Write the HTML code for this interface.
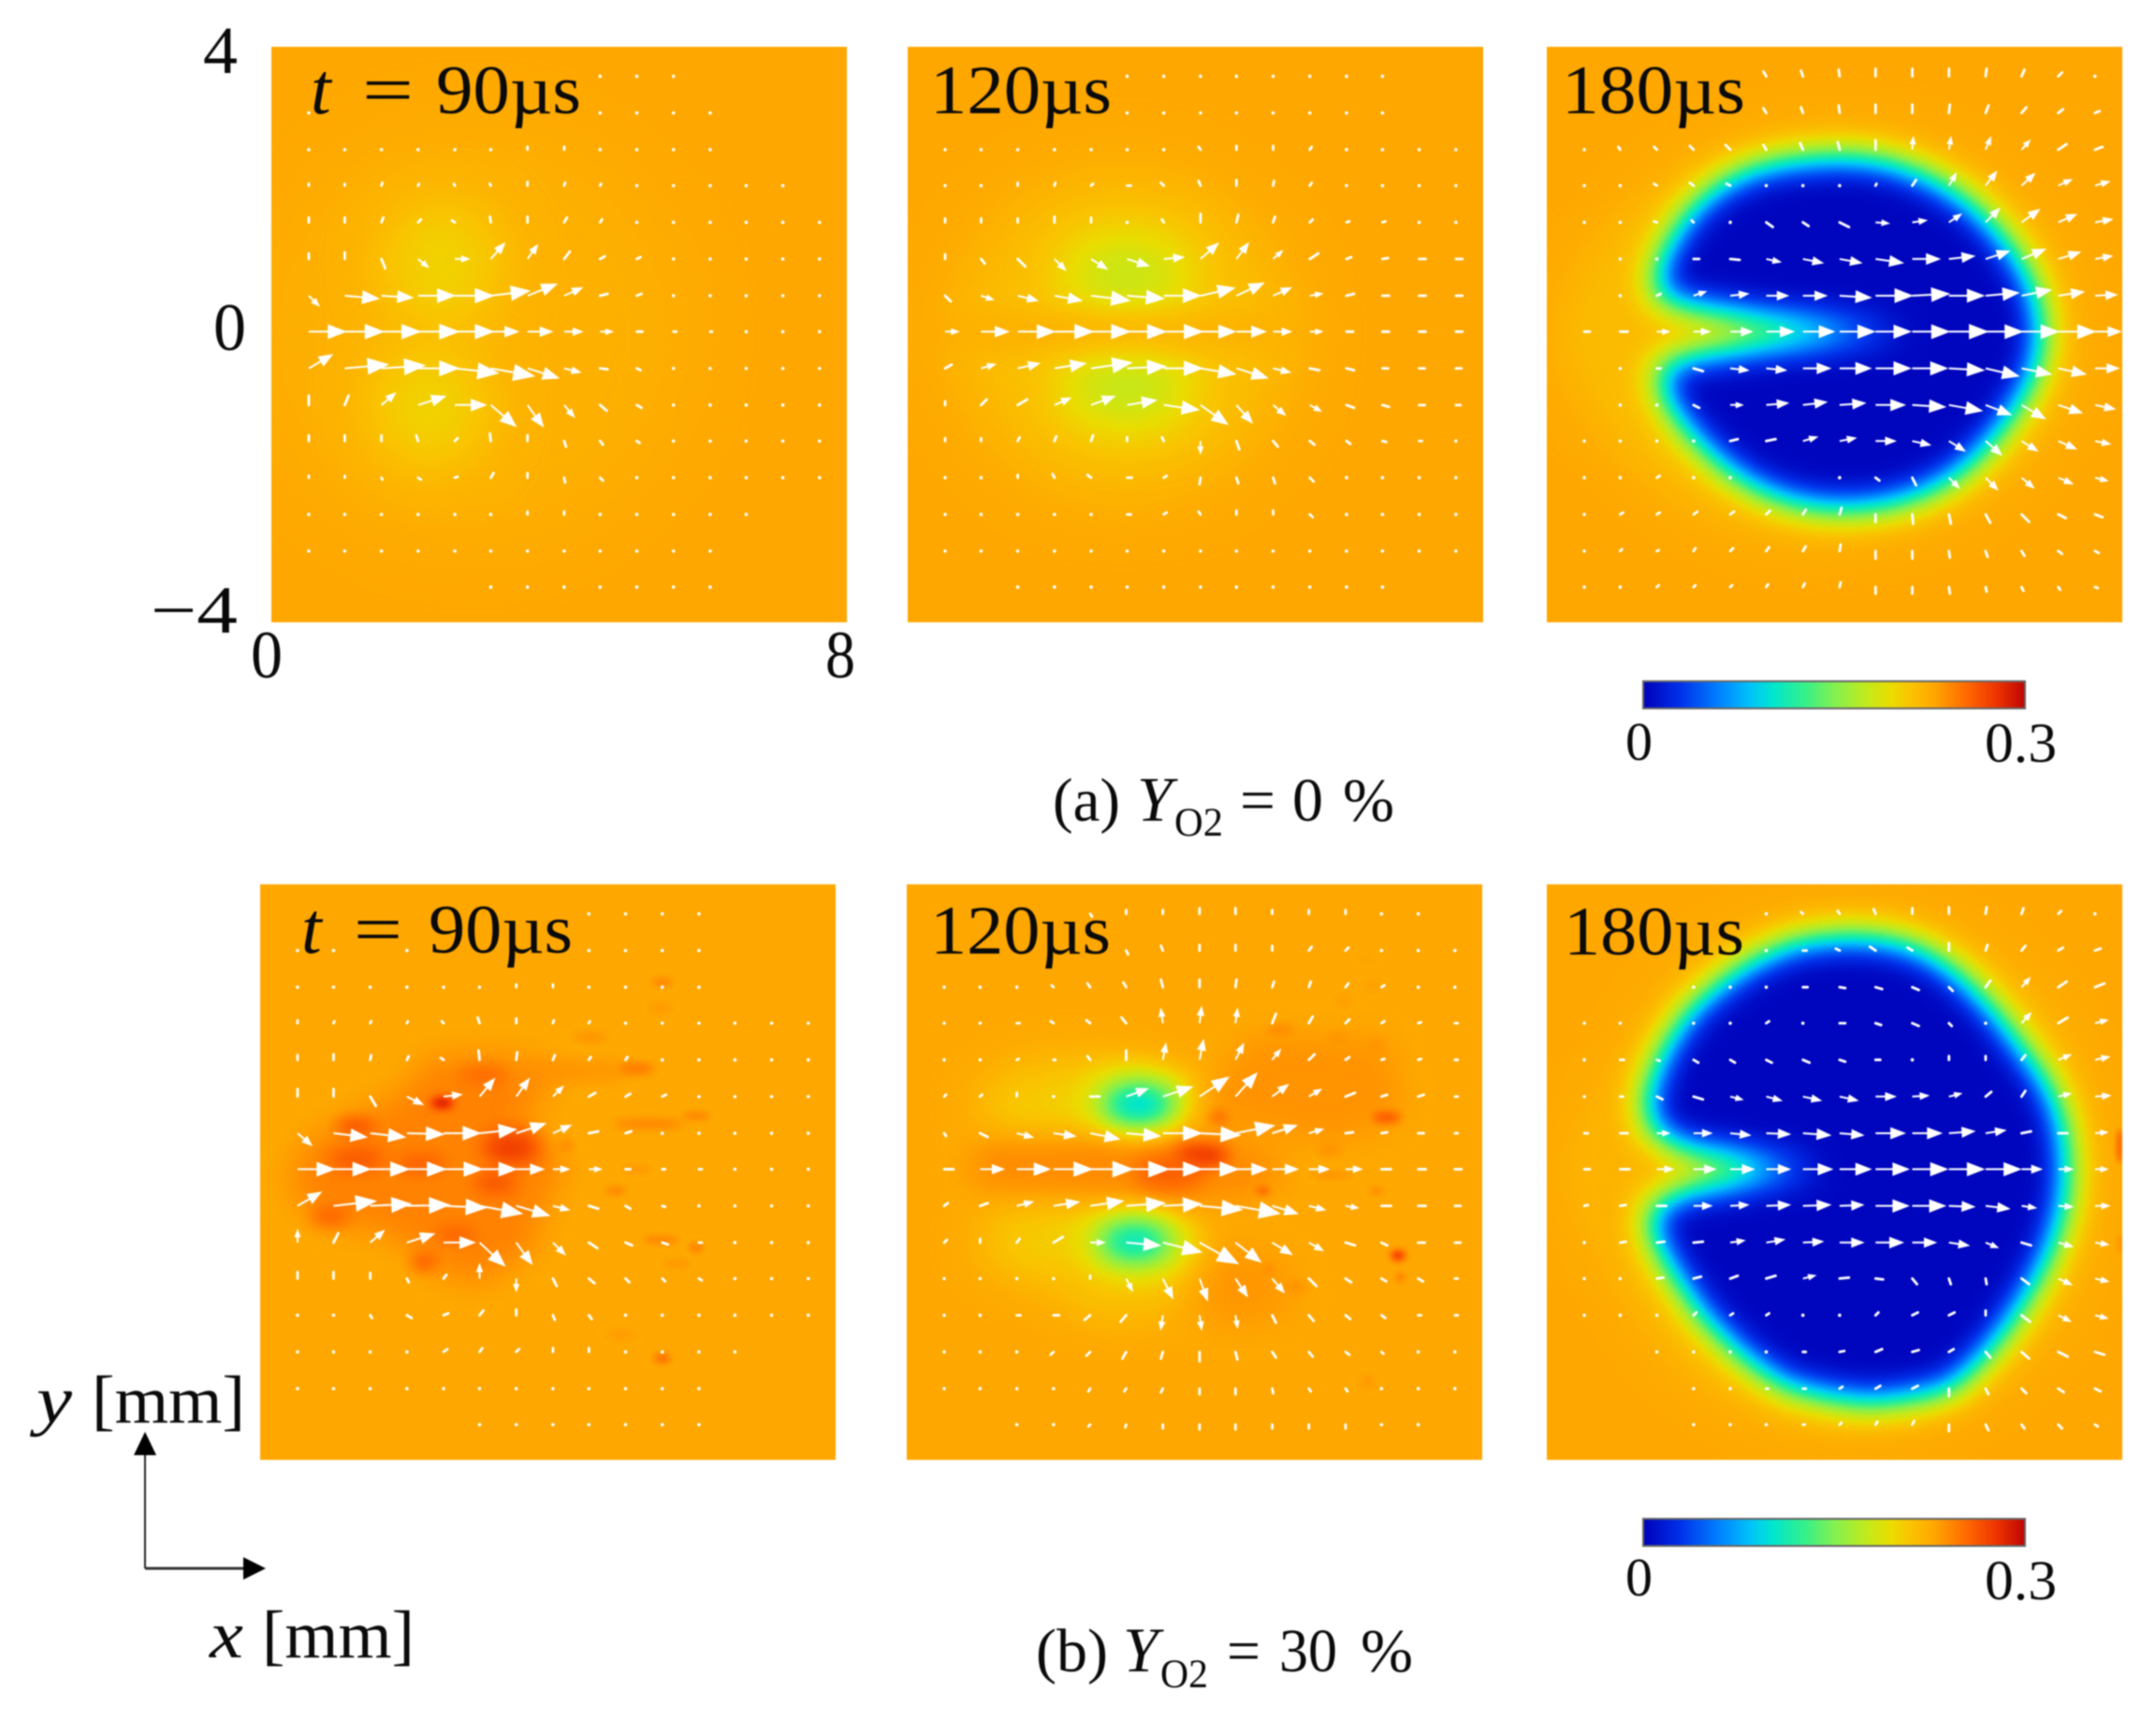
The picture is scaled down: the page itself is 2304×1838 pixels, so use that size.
<!DOCTYPE html>
<html lang="en">
<head>
<meta charset="utf-8">
<title>Oxygen mass fraction fields with velocity vectors</title>
<style>
html,body{margin:0;padding:0;background:#fff;width:2304px;height:1838px;overflow:hidden}
#figure{display:block;width:2304px;height:1838px;filter:blur(.7px)}
text{font-family:"Liberation Serif","DejaVu Serif",serif;fill:#0a0a0a}
.it{font-style:italic}
</style>
</head>
<body>
<svg id="figure" width="2304" height="1838" viewBox="0 0 2304 1838">
<defs id="defs"><linearGradient id="barGrad" x1="0" x2="1" y1="0" y2="0"></linearGradient></defs>
<rect x="0" y="0" width="2304" height="1838" fill="#fff"/>
<g id="panels"></g>

<g>
<text x="217" y="78" font-size="72" textLength="37" lengthAdjust="spacingAndGlyphs">4</text>
<text x="228" y="374" font-size="72" textLength="35" lengthAdjust="spacingAndGlyphs">0</text>
<text x="161" y="676" font-size="72" textLength="93" lengthAdjust="spacingAndGlyphs">−4</text>
</g>
<g>
<text x="268" y="724" font-size="72" textLength="34" lengthAdjust="spacingAndGlyphs">0</text>
<text x="882" y="724" font-size="72" textLength="32" lengthAdjust="spacingAndGlyphs">8</text>
</g>

<g>
<text class="it" x="332" y="121" font-size="78">t</text>
<text x="387" y="121" font-size="74" textLength="55" lengthAdjust="spacingAndGlyphs">=</text>
<text x="466" y="121" font-size="74" textLength="155" lengthAdjust="spacingAndGlyphs">90µs</text>
<text x="994" y="121" font-size="74" textLength="194" lengthAdjust="spacingAndGlyphs">120µs</text>
<text x="1669" y="121" font-size="74" textLength="196" lengthAdjust="spacingAndGlyphs">180µs</text>
<text class="it" x="322" y="1018" font-size="78">t</text>
<text x="378" y="1018" font-size="74" textLength="52" lengthAdjust="spacingAndGlyphs">=</text>
<text x="458" y="1018" font-size="74" textLength="154" lengthAdjust="spacingAndGlyphs">90µs</text>
<text x="994" y="1019" font-size="74" textLength="193" lengthAdjust="spacingAndGlyphs">120µs</text>
<text x="1671" y="1020" font-size="74" textLength="193" lengthAdjust="spacingAndGlyphs">180µs</text>
</g>

<g>
<rect x="1756" y="728" width="408" height="29" fill="url(#barGrad)" stroke="#666" stroke-width="2"/>
<text x="1737" y="812" font-size="58">0</text>
<text x="2121" y="814" font-size="60" textLength="77" lengthAdjust="spacingAndGlyphs">0.3</text>
</g>
<g>
<rect x="1756" y="1623" width="408" height="29" fill="url(#barGrad)" stroke="#666" stroke-width="2"/>
<text x="1737" y="1705" font-size="58">0</text>
<text x="2121" y="1709" font-size="60" textLength="77" lengthAdjust="spacingAndGlyphs">0.3</text>
</g>

<g>
<text x="1125" y="877" font-size="66" textLength="72" lengthAdjust="spacingAndGlyphs">(a)</text>
<text class="it" x="1215" y="877" font-size="68">Y</text>
<text x="1255" y="893" font-size="43" textLength="52" lengthAdjust="spacingAndGlyphs">O2</text>
<text x="1325" y="877" font-size="66" textLength="38" lengthAdjust="spacingAndGlyphs">=</text>
<text x="1381" y="877" font-size="66" textLength="33" lengthAdjust="spacingAndGlyphs">0</text>
<text x="1435" y="877" font-size="66" textLength="55" lengthAdjust="spacingAndGlyphs">%</text>
</g>
<g>
<text x="1107" y="1786" font-size="66" textLength="77" lengthAdjust="spacingAndGlyphs">(b)</text>
<text class="it" x="1200" y="1786" font-size="68">Y</text>
<text x="1240" y="1803" font-size="43" textLength="51" lengthAdjust="spacingAndGlyphs">O2</text>
<text x="1311" y="1786" font-size="66" textLength="36" lengthAdjust="spacingAndGlyphs">=</text>
<text x="1367" y="1786" font-size="66" textLength="62" lengthAdjust="spacingAndGlyphs">30</text>
<text x="1454" y="1786" font-size="66" textLength="56" lengthAdjust="spacingAndGlyphs">%</text>
</g>

<g>
<text class="it" x="39" y="1520" font-size="72" textLength="38" lengthAdjust="spacingAndGlyphs">y</text>
<text x="98" y="1520" font-size="72" textLength="164" lengthAdjust="spacingAndGlyphs">[mm]</text>
<text class="it" x="224" y="1771" font-size="72" textLength="36" lengthAdjust="spacingAndGlyphs">x</text>
<text x="280" y="1771" font-size="72" textLength="163" lengthAdjust="spacingAndGlyphs">[mm]</text>
<line x1="155" y1="1552" x2="155" y2="1676" stroke="#222" stroke-width="2"/>
<polygon points="155,1530 143,1555 167,1555" fill="#000"/>
<line x1="155" y1="1676" x2="262" y2="1676" stroke="#333" stroke-width="3"/>
<polygon points="284,1676 260,1664 260,1688" fill="#000"/>
</g>
</svg>

<script>
const _ = null;

/* Grid of vector origins, in mm */
const gridX = [0.52,1.02,1.53,2.04,2.55,3.05,3.56,4.07,4.57,5.08,5.59,6.1,6.6,7.11,7.62];
const gridY = [3.59,3.08,2.57,2.07,1.56,1.05,0.54,0.04,-0.47,-0.98,-1.48,-1.99,-2.5,-3.01,-3.51];

/* Colour scale: fraction of the 0 to 0.3 range, with R, G, B channels */
const colorFractions = [0,0.1,0.2,0.28,0.34,0.42,0.5,0.58,0.65,0.7,0.76,0.84,0.92,1];
const colorRed   = [0,0,0,0,0,50,130,190,235,250,255,255,240,190];
const colorGreen = [0,50,130,195,230,240,240,235,220,195,168,110,55,5];
const colorBlue  = [185,235,255,250,205,140,80,30,0,0,0,0,0,0];

/* Ambient mass fraction */
const ambientY = 0.228;

/* Field features, mm: centre x, centre y, radius x, radius y, mass fraction, diffusion width */
const fieldA1 = [[2.8,0,3.0,2.9,0.222,0.42],[2.37,0.99,0.85,0.85,0.2,0.38],[2.2,-1.02,0.85,0.85,0.2,0.38]];
const fieldA2 = [[3.0,0,2.4,2.3,0.214,0.42],[3.05,0.84,0.95,0.55,0.174,0.38],[3.05,-0.75,0.95,0.55,0.172,0.38],[2.8,0.04,2.8,0.2,0.226,0.22]];
const fieldA3Halo = [[3.9,0,3.45,2.85,0.213,0.32],[1.1,0.02,0.9,1.0,0.215,0.4]];
const fieldB3Halo = [[4.2,0,3.45,3.6,0.213,0.32],[0.9,0,0.7,1.0,0.22,0.35]];
const fieldB3Spots = [[7.96,0.36,0.04,0.25,0.26,0.04],[7.96,-1.0,0.03,0.15,0.24,0.04]];
const fieldB1 = [
 [2.53,0.96,0.16,0.07,0.3,0.06],[1.33,0.64,0.28,0.09,0.27,0.1],[3.49,0.34,0.4,0.22,0.275,0.14],
 [1.35,0.18,0.4,0.14,0.265,0.13],[3.27,-0.15,0.3,0.14,0.265,0.12],[2.23,0.12,0.35,0.12,0.26,0.12],
 [0.97,-0.62,0.28,0.1,0.265,0.12],[2.72,-0.86,0.28,0.09,0.26,0.1],[2.28,-1.25,0.18,0.1,0.265,0.1],
 [3.1,1.35,0.35,0.1,0.255,0.11],[4.4,1.41,0.8,0.12,0.238,0.12],[5.24,1.44,0.25,0.07,0.25,0.07],
 [4.58,1.87,0.25,0.05,0.24,0.07],[5.57,2.28,0.15,0.04,0.24,0.06],[5.59,2.64,0.15,0.05,0.245,0.05],
 [6.06,0.78,0.2,0.05,0.245,0.05],[5.4,0.67,0.5,0.05,0.248,0.06],[4.25,0.37,0.1,0.06,0.245,0.06],
 [5.24,0.04,0.2,0.04,0.238,0.05],[4.94,-0.26,0.15,0.05,0.245,0.05],[5.57,-0.94,0.25,0.05,0.245,0.05],
 [6.06,-1.05,0.1,0.05,0.25,0.05],[5.8,-1.27,0.2,0.04,0.238,0.05],[5.59,-2.59,0.12,0.06,0.255,0.05],
 [5.02,-2.26,0.2,0.05,0.235,0.07]
];
const fieldB2Under = [
 [2.3,0.95,1.3,0.6,0.205,0.3],[2.3,-0.97,1.3,0.6,0.205,0.3],[4.6,-1.6,0.8,0.5,0.235,0.26],
 [3.0,-1.6,0.9,0.5,0.212,0.26],[3.2,0.95,0.9,0.55,0.19,0.2],[3.2,-0.97,0.9,0.55,0.19,0.2]
];
const fieldB2Over = [
 [3.22,0.94,0.5,0.28,0.085,0.2],[3.17,-0.97,0.5,0.28,0.095,0.2],
 [4.1,0.23,0.38,0.14,0.285,0.12],[3.66,-0.01,0.5,0.22,0.26,0.15],[4.95,-0.26,0.1,0.05,0.26,0.05],
 [4.34,0.76,0.12,0.07,0.26,0.08],[6.67,0.76,0.2,0.06,0.27,0.06],[5.19,1.98,0.2,0.05,0.245,0.06],
 [6.0,1.87,0.15,0.04,0.24,0.06],[6.53,1.76,0.12,0.1,0.236,0.06],[6.07,2.37,0.12,0.04,0.236,0.06],
 [6.4,2.97,0.1,0.04,0.232,0.06],[6.48,2.59,0.1,0.04,0.236,0.06],[6.83,-1.16,0.1,0.07,0.28,0.05],
 [6.86,-1.46,0.06,0.05,0.255,0.05],[5.41,-1.6,0.15,0.08,0.238,0.06],[5.03,-1.35,0.06,0.05,0.245,0.05],
 [6.4,-2.91,0.1,0.06,0.238,0.06],[5.88,0.31,0.15,0.08,0.238,0.07],[6.53,-0.26,0.1,0.04,0.245,0.05],
 [5.9,-0.04,0.3,0.03,0.245,0.05]
];

/* Contours, mm */
const contourA3X = [1.53,1.5,1.67,1.95,2.35,2.86,3.43,4.11,4.68,5.24,5.76,6.21,6.55,6.78,6.89,6.8,6.58,6.21,5.76,5.24,4.68,4.11,3.54,2.98,2.46,2.07,1.76,1.59,1.53,1.95,2.98,4.3,5.0,4.3,2.98,2.01];
const contourA3Y = [0.51,0.77,1.22,1.66,2.04,2.3,2.42,2.47,2.41,2.22,1.92,1.51,1.07,0.62,0.04,-0.5,-0.95,-1.47,-1.92,-2.22,-2.38,-2.43,-2.37,-2.18,-1.85,-1.47,-1.1,-0.73,-0.46,-0.31,-0.15,-0.01,0.03,0.09,0.22,0.38];
const contourB3X = [1.43,1.38,1.6,1.95,2.42,2.92,3.47,4.02,4.51,5.06,5.5,5.89,6.28,6.61,6.94,7.16,7.24,7.18,6.99,6.72,6.33,5.94,5.61,5.06,4.51,3.96,3.3,2.7,2.15,1.75,1.5,1.42,1.43,1.92,3.14,3.8,3.14,1.92];
const contourB3Y = [0.59,1.04,1.64,2.2,2.62,2.96,3.19,3.26,3.26,3.15,2.92,2.59,2.17,1.72,1.27,0.74,0.06,-0.54,-1.14,-1.67,-2.27,-2.72,-3.02,-3.14,-3.21,-3.14,-2.98,-2.55,-2.0,-1.4,-0.95,-0.61,-0.5,-0.26,-0.03,0.04,0.11,0.32];
const contourB1X = [0.42,0.75,1.19,1.96,2.34,3.27,4.31,3.6,4.03,4.25,3.93,3.82,3.05,2.34,1.9,0.86,0.48];
const contourB1Y = [0.04,0.48,0.72,1.08,1.57,1.63,1.41,0.86,0.37,0.04,-0.45,-1.05,-1.55,-1.33,-0.89,-0.67,-0.34];
const contourB2X = [0.98,3.93,4.81,5.36,4.81,3.71,0.98,0.87];
const contourB2Y = [0.42,0.59,0.37,0.04,-0.34,-0.45,-0.23,0.1];
const contourB2FanX = [3.95,4.8,6.7,6.9,5.9];
const contourB2FanY = [0.7,1.9,1.85,0.75,0.38];

/* Velocity vectors. Each row is one gridY value, each column one gridX value. */
const uA1 = [
[_,_,_,_,_,_,_,_,0,0,0,_,_,_,_],
[0,_,_,_,_,_,_,_,0,0,0,0,_,_,_],
[0,0,0,0,0,0,0,0,0,0,0,0,_,_,_],
[0,0,1,1,-1,-1,0,1,1,0,0,0,0,0,_],
[0,0,2,3,-3,-1,0,3,2,0,0,0,0,0,0],
[0,0,4,10,14,14,10,6,5,4,0,0,0,0,0],
[10,35,32,38,40,40,30,18,8,5,0,0,0,0,0],
[38,40,40,42,40,28,25,18,12,6,3,2,0,0,0],
[24,45,45,42,45,45,32,16,8,4,0,0,0,0,0],
[0,4,14,28,32,26,16,10,7,5,0,0,0,0,0],
[0,0,0,-2,3,-1,0,2,3,3,0,0,0,0,0],
[0,0,1,3,3,3,0,1,3,0,0,0,0,0,0],
[0,0,0,0,0,0,0,0,0,0,0,0,0,_,_],
[0,0,0,0,0,0,0,0,0,0,0,0,_,_,_],
[_,_,_,_,_,0,0,0,0,0,0,0,_,_,_]];
const vA1 = [
[_,_,_,_,_,_,_,_,0,0,0,_,_,_,_],
[0,_,_,_,_,_,_,_,0,0,0,0,_,_,_],
[0,0,0,0,0,0,3,3,0,0,0,0,_,_,_],
[2,2,3,2,2,2,4,3,2,0,0,0,0,0,_],
[5,5,5,3,2,6,6,5,3,0,0,0,0,0,0],
[6,7,-10,-8,0,16,14,8,3,2,0,0,0,0,0],
[-10,-3,-2,0,0,5,12,8,2,2,0,0,0,0,0],
[0,0,0,0,0,0,0,0,0,0,0,0,0,0,0],
[14,4,3,0,-5,-8,-10,-4,-1,-2,0,0,0,0,0],
[10,10,12,9,0,-22,-22,-12,-6,-3,0,0,0,0,0],
[6,6,6,6,3,8,6,-6,-4,-2,0,0,0,0,0],
[2,2,-2,-2,1,5,5,-5,-3,0,0,0,0,0,0],
[0,0,0,0,0,0,3,3,0,0,0,0,0,_,_],
[0,0,0,0,0,0,0,0,0,0,0,0,_,_,_],
[_,_,_,_,_,0,0,0,0,0,0,0,_,_,_]];

const uA2 = [
[_,_,_,_,_,0,0,0,0,0,0,0,0,_,_],
[_,_,_,_,_,0,0,0,0,0,0,0,0,_,_],
[0,0,0,0,0,0,0,-2,0,0,2,0,0,0,0],
[0,0,0,1,2,4,-3,-2,0,1,2,0,0,0,0],
[0,0,0,0,0,0,-2,0,2,2,3,3,3,0,0],
[0,4,8,11,16,22,20,18,12,9,9,5,6,7,7],
[6,12,20,28,40,38,38,35,28,18,12,8,7,7,7],
[13,28,38,40,40,40,40,36,30,18,12,7,7,7,7],
[7,14,22,32,42,40,40,36,32,17,10,8,6,6,6],
[0,6,10,16,24,30,36,28,16,12,11,8,7,6,5],
[0,0,2,2,2,0,-2,0,3,5,5,4,4,3,0],
[0,0,0,-2,-4,5,3,-1,2,2,4,0,0,0,0],
[0,0,0,0,0,4,3,-2,0,0,3,0,0,0,0],
[0,0,0,0,0,0,0,0,0,0,0,0,0,0,0],
[_,_,0,0,0,0,0,0,0,0,0,0,0,_,_]];
const vA2 = [
[_,_,_,_,_,0,0,0,0,0,0,0,0,_,_],
[_,_,_,_,_,0,0,0,0,0,0,0,0,_,_],
[0,0,0,0,0,0,0,3,4,4,3,0,0,0,0],
[0,0,3,3,2,0,3,5,6,5,3,0,0,0,0],
[4,4,4,6,5,0,3,9,8,6,3,1,1,0,0],
[5,-5,-8,-11,-10,-7,2,16,16,8,6,2,1,0,0],
[-6,-4,-5,-5,-5,-3,0,8,13,8,2,2,0,0,0],
[0,0,0,0,0,0,0,0,0,0,0,0,0,0,0],
[4,4,5,5,6,2,0,-6,-10,-4,-2,-2,0,0,0],
[4,6,6,7,9,5,-5,-20,-18,-10,-6,-3,-2,0,0],
[3,3,4,5,6,4,4,-12,-9,-6,-4,-3,-1,0,0],
[0,0,3,4,3,0,2,-7,-6,-6,-4,0,0,0,0],
[0,0,0,0,0,0,2,3,4,4,-3,0,0,0,0],
[0,0,0,0,0,0,0,0,0,0,0,0,0,0,0],
[_,_,0,0,0,0,0,0,0,0,0,0,0,_,_]];

const uA3 = [
[_,_,_,_,_,-3,-2,-1,0,0,0,1,3,4,0],
[_,_,_,_,_,-3,-2,-1,0,0,1,3,5,5,5],
[0,-2,-3,-4,-5,-3,-3,-2,0,1,2,5,8,9,8],
[0,0,-3,-4,-4,0,0,0,1,4,7,11,13,13,14],
[0,0,-3,-2,0,7,6,10,13,14,12,14,18,18,17],
[_,0,0,6,10,14,20,22,28,28,26,24,24,22,17],
[_,0,4,12,18,22,24,32,38,38,36,34,30,26,22],
[6,8,12,16,22,28,32,36,36,38,40,38,38,38,26],
[_,0,4,10,18,20,28,32,36,36,36,34,30,28,24],
[_,0,0,6,12,22,24,26,30,34,34,26,24,24,20],
[0,0,0,0,8,10,14,16,20,18,16,16,16,18,15],
[0,0,3,0,0,_,_,0,4,4,10,12,12,14,12],
[0,3,3,4,4,4,3,2,0,1,2,5,8,8,8],
[0,2,2,2,3,3,3,1,0,0,1,2,3,4,4],
[0,0,2,2,2,2,2,1,0,0,1,1,2,2,3]];
const vA3 = [
[_,_,_,_,_,5,6,7,8,8,8,8,7,4,0],
[_,_,_,_,_,5,6,8,9,9,9,8,6,4,2],
[0,3,3,4,5,5,7,8,10,12,12,12,9,6,3],
[0,0,2,3,2,0,0,0,2,6,12,14,12,6,4],
[0,0,1,2,0,-5,-4,-5,-1,2,8,14,13,8,3],
[_,0,0,0,-1,-3,-4,-4,-4,0,3,8,10,7,3],
[_,0,2,4,2,0,0,-2,0,2,0,3,6,4,1],
[0,0,0,0,0,0,0,0,0,0,0,0,0,0,0],
[_,0,0,-3,-2,-2,0,0,0,0,-2,-8,-6,-6,0],
[_,0,0,-3,0,2,3,2,0,-2,-6,-10,-14,-8,-4],
[0,0,0,0,2,2,4,3,0,-4,-10,-14,-10,-8,-3],
[0,0,2,0,0,_,_,0,-3,-8,-10,-12,-10,-6,-3],
[0,2,2,3,3,4,5,7,-8,-10,-10,-9,-8,-4,-3],
[0,2,1,3,3,4,5,7,-8,-8,-7,-6,-5,-3,-2],
[0,0,2,2,2,3,4,5,-7,-7,-7,-5,-4,-3,-1]];

const uB1 = [
[_,_,_,_,_,_,_,_,0,0,0,0,_,_,_],
[0,0,_,0,_,_,_,_,0,0,0,0,_,_,_],
[0,0,0,0,0,0,0,0,0,0,0,0,_,_,_],
[0,1,1,1,-2,-2,0,1,1,0,0,0,0,0,0],
[0,0,1,2,-3,-1,1,2,2,2,0,0,0,0,0],
[0,0,6,16,18,15,13,10,7,5,4,0,0,0,0],
[14,34,36,38,38,38,30,18,10,6,0,0,0,0,0],
[38,38,40,40,40,38,28,16,12,5,3,3,0,0,0],
[24,44,42,44,44,44,34,16,10,5,3,0,0,0,0],
[0,5,14,28,32,26,16,12,9,7,6,3,0,0,0],
[0,0,0,2,3,0,0,4,6,4,3,3,0,0,0],
[0,0,2,5,5,4,0,2,3,0,0,0,0,0,0],
[0,0,0,0,4,3,3,0,0,0,0,0,0,_,_],
[0,0,0,0,0,0,0,0,0,0,0,0,_,_,_],
[_,_,_,_,_,0,0,0,0,0,0,0,_,_,_]];
const vB1 = [
[_,_,_,_,_,_,_,_,0,0,0,0,_,_,_],
[0,0,_,0,_,_,_,_,0,0,0,0,_,_,_],
[0,0,0,0,0,0,3,3,0,0,0,0,_,_,_],
[3,2,2,2,2,6,5,3,2,0,0,0,0,0,0],
[5,6,5,4,2,10,8,5,3,3,0,0,0,0,0],
[8,8,-10,-8,2,18,18,10,4,3,2,0,0,0,0],
[-12,-4,-4,-1,0,4,10,8,2,2,0,0,0,0,0],
[0,0,0,0,0,0,0,0,0,0,0,0,0,0,0],
[14,5,2,1,-2,-8,-10,-4,-3,-3,-1,0,0,0,0],
[12,10,12,9,0,-24,-22,-12,-6,-3,-2,0,0,0,0],
[7,7,6,-4,4,14,-12,-8,-5,-4,-3,-2,0,0,0],
[0,0,-3,-3,2,5,6,-5,-4,0,0,0,0,0,0],
[0,0,0,0,3,4,3,4,4,0,0,0,0,_,_],
[0,0,0,0,0,0,0,0,0,0,0,0,_,_,_],
[_,_,_,_,_,0,0,0,0,0,0,0,_,_,_]];

const uB2 = [
[_,_,_,_,2,0,0,0,0,0,0,0,0,0,_],
[_,_,_,_,_,2,-2,0,0,0,3,3,0,0,0],
[0,0,0,-2,-3,-3,-2,0,1,2,2,3,3,0,0],
[0,0,3,-3,-4,-5,-2,2,2,4,4,4,3,3,3],
[0,0,2,2,-3,0,3,4,8,8,6,4,3,3,3],
[2,2,0,0,10,22,30,30,22,16,12,10,6,6,3],
[2,8,16,22,30,35,40,42,40,25,14,8,6,6,3],
[10,24,34,40,44,44,40,40,32,26,20,16,10,8,7],
[4,8,16,26,34,40,40,44,46,26,16,12,10,8,6],
[3,0,3,10,14,35,40,40,26,20,14,10,6,7,6],
[0,0,0,0,0,6,10,8,12,12,8,6,5,5,3],
[0,0,4,6,-6,-6,-2,2,2,4,5,5,4,3,3],
[0,0,0,-3,-4,-4,-2,0,2,4,4,4,2,0,0],
[0,0,0,0,-2,-2,-2,0,0,1,2,2,0,0,0],
[_,_,0,0,-2,-1,0,0,0,0,0,0,0,0,_]];
const vB2 = [
[_,_,_,_,-3,4,4,6,6,4,4,4,0,0,_],
[_,_,_,_,_,-4,5,6,6,5,4,3,0,0,0],
[0,0,0,2,4,5,8,8,8,6,6,4,2,0,0],
[0,0,0,2,3,6,14,16,14,10,7,4,2,1,0],
[0,0,1,0,4,10,16,20,16,10,6,3,1,1,0],
[2,2,4,0,0,8,10,20,24,12,7,4,2,2,0],
[-3,-4,-4,-3,-6,-3,0,-2,8,8,4,1,1,0,0],
[0,0,0,0,0,0,0,0,0,0,0,0,0,0,0],
[3,3,4,4,5,3,2,-4,-8,-8,-4,-2,0,0,0],
[3,4,4,6,0,-3,-10,-22,-20,-12,-8,-3,-3,0,0],
[0,0,0,0,3,-12,-20,-22,-18,-14,-8,-4,-3,-3,0],
[0,0,0,0,-5,-7,-14,-14,-12,-8,-6,-4,-3,0,0],
[0,0,0,-3,-4,-7,-7,-10,-8,-6,-5,-3,-2,0,0],
[0,0,0,0,-3,-3,-4,-6,-6,-5,-3,-3,0,0,0],
[_,_,0,0,-2,-3,-4,-5,-5,-4,-4,-4,0,0,_]];

const uB3 = [
[_,_,_,_,_,0,-2,-2,-2,0,0,1,2,3,0],
[_,_,_,_,_,0,4,-4,-6,-5,0,2,4,5,6],
[_,_,_,0,0,0,5,6,7,7,4,5,8,9,10],
[0,0,_,0,0,3,0,6,6,7,3,0,9,10,12],
[0,4,3,5,5,6,7,6,5,0,0,0,4,12,14],
[0,3,6,10,12,15,18,18,20,16,12,6,4,12,15],
[4,8,12,18,20,24,28,24,30,30,26,20,10,10,12],
[6,10,16,22,24,24,30,32,34,36,36,36,20,14,12],
[4,6,10,18,18,24,28,24,34,34,26,24,14,14,14],
[0,6,8,10,14,18,20,24,28,24,20,12,10,14,13],
[0,0,7,8,8,10,12,10,8,5,2,1,8,13,13],
[0,0,0,3,3,3,0,0,3,6,6,0,9,12,12],
[_,_,0,0,0,0,3,5,7,7,5,5,8,10,10],
[_,_,_,0,0,2,3,3,5,6,0,3,5,6,6],
[_,_,_,0,0,0,2,2,2,2,0,3,3,4,3]];
const vB3 = [
[_,_,_,_,_,0,2,3,5,6,7,7,6,3,0],
[_,_,_,_,_,0,0,2,4,3,8,6,5,3,2],
[_,_,_,0,0,0,0,-1,-2,-3,-4,7,9,6,4],
[0,0,_,0,0,2,0,0,-2,-3,-3,0,10,6,3],
[0,0,-1,-3,-3,-3,-3,-2,0,0,4,4,5,5,3],
[0,0,-3,-3,-3,-4,-4,-4,0,1,3,5,6,3,1],
[0,0,0,0,-2,-1,-2,-2,0,0,2,3,2,0,1],
[0,0,0,0,0,0,0,0,0,0,0,0,0,0,0],
[1,1,0,0,1,1,1,1,0,0,-1,-3,-2,-1,0],
[0,1,1,1,2,3,1,0,0,0,-3,-5,-3,-4,-2],
[0,0,1,2,3,3,3,1,-1,-6,-6,-6,-6,-6,-3],
[0,0,0,3,2,2,0,0,3,3,3,5,-7,-6,-3],
[_,_,0,0,0,0,0,1,3,2,3,-6,-7,-5,-3],
[_,_,_,0,0,0,0,2,3,3,-8,-6,-5,-4,-3],
[_,_,_,0,0,0,0,2,3,4,-7,-6,-4,-4,-2]];

/* Axes */
const svg = document.getElementById('figure');
const NS = svg.namespaceURI;
const defs = document.getElementById('defs');
const panelsRoot = document.getElementById('panels');
const PANEL = 615;
const xDomain = [0, 8];
const yDomain = [4, -4];
const yMax = 0.3;
const pxPerMm = PANEL / (xDomain[1] - xDomain[0]);
const xAxis = (left, mm) => left + (mm - xDomain[0]) * pxPerMm;
const yAxis = (top, mm) => top + (mm - yDomain[0]) / (yDomain[1] - yDomain[0]) * PANEL;
const gray = y => { const g = Math.round(Math.max(0, Math.min(1, y / yMax)) * 255); return 'rgb(' + g + ',' + g + ',' + g + ')'; };

function node(tag, attrs, parent) {
  const el = document.createElementNS(NS, tag);
  for (const k in attrs) el.setAttribute(k, attrs[k]);
  parent.appendChild(el);
  return el;
}

/* Colour scale lookup */
function channel(values, f) {
  for (let i = 1; i < colorFractions.length; i++) {
    if (f <= colorFractions[i]) {
      const a = colorFractions[i - 1], b = colorFractions[i];
      return values[i - 1] + (values[i] - values[i - 1]) * (f - a) / (b - a);
    }
  }
  return values[values.length - 1];
}
const barGrad = document.getElementById('barGrad');
colorFractions.forEach((f, i) => {
  node('stop', { offset: f, 'stop-color': 'rgb(' + colorRed[i] + ',' + colorGreen[i] + ',' + colorBlue[i] + ')' }, barGrad);
});
function tableFor(values) {
  const out = [];
  for (let i = 0; i <= 128; i++) out.push((channel(values, i / 128) / 255).toFixed(4));
  return out.join(' ');
}

const tableR = tableFor(colorRed), tableG = tableFor(colorGreen), tableB = tableFor(colorBlue);

function colormapFilter(id, left, top) {
  const f = node('filter', { id: id, filterUnits: 'userSpaceOnUse', x: left, y: top, width: PANEL, height: PANEL, 'color-interpolation-filters': 'sRGB' }, defs);
  const t = node('feComponentTransfer', {}, f);
  node('feFuncR', { type: 'table', tableValues: tableR }, t);
  node('feFuncG', { type: 'table', tableValues: tableG }, t);
  node('feFuncB', { type: 'table', tableValues: tableB }, t);
}
function blurFilter(panelId, left, top, sigmaMm) {
  const s = Math.round(sigmaMm * pxPerMm);
  const id = panelId + '-blur-' + s;
  if (!document.getElementById(id)) {
    const f = node('filter', { id: id, filterUnits: 'userSpaceOnUse', x: left - 90, y: top - 90, width: PANEL + 180, height: PANEL + 180, 'color-interpolation-filters': 'sRGB' }, defs);
    node('feGaussianBlur', { stdDeviation: s }, f);
  }
  return 'url(#' + id + ')';
}

function drawEllipses(rows, p, group) {
  rows.forEach(r => {
    const el = node('ellipse', { cx: xAxis(p.left, r[0]), cy: yAxis(p.top, r[1]), rx: r[2] * pxPerMm, ry: r[3] * pxPerMm, fill: gray(r[4]), filter: blurFilter(p.id, p.left, p.top, r[5]) }, group);
    
    
  });
}
function drawContour(xs, ys, value, sigma, p, group) {
  const pts = xs.map((x, i) => xAxis(p.left, x).toFixed(1) + ',' + yAxis(p.top, ys[i]).toFixed(1)).join(' ');
  const el = node('polygon', { points: pts, fill: gray(value), filter: blurFilter(p.id, p.left, p.top, sigma) }, group);
  
  
}

function drawArrow(x, y, u, v, group) {
  const len = Math.hypot(u, v);
  let el;
  if (len === 0) {
    el = node('circle', { cx: x, cy: y, r: 1.8, fill: '#fff' }, group);
  } else {
    const ux = u / len, uy = -v / len;
    const tipX = x + u, tipY = y - v;
    if (len < 12) {
      el = node('line', { x1: x, y1: y, x2: tipX, y2: tipY, stroke: '#fff', 'stroke-width': 2.8, 'stroke-linecap': 'round' }, group);
    } else {
      const hl = Math.min(0.44 * len, 20), hw = Math.min(0.17 * len, 8);
      const bx = tipX - ux * hl, by = tipY - uy * hl;
      const d = 'M' + x.toFixed(1) + ' ' + y.toFixed(1) + 'L' + bx.toFixed(1) + ' ' + by.toFixed(1);
      const head = 'M' + tipX.toFixed(1) + ' ' + tipY.toFixed(1) +
        'L' + (bx - uy * hw).toFixed(1) + ' ' + (by + ux * hw).toFixed(1) +
        'L' + (bx + uy * hw).toFixed(1) + ' ' + (by - ux * hw).toFixed(1) + 'Z';
      el = node('path', { d: d + head, fill: '#fff', stroke: '#fff', 'stroke-width': 2 }, group);
    }
  }
  
  
}

/* Panels */
const panelDefs = [
  { id: 'a1', left: 290, top: 50, u: uA1, v: vA1, name: 'panel-a-90us',
    paint: (p, g) => drawEllipses(fieldA1, p, g) },
  { id: 'a2', left: 970, top: 50, u: uA2, v: vA2, name: 'panel-a-120us',
    paint: (p, g) => drawEllipses(fieldA2, p, g) },
  { id: 'a3', left: 1653, top: 50, u: uA3, v: vA3, name: 'panel-a-180us',
    paint: (p, g) => { drawEllipses(fieldA3Halo, p, g); drawContour(contourA3X, contourA3Y, 0.004, 0.25, p, g); } },
  { id: 'b1', left: 278, top: 945, u: uB1, v: vB1, name: 'panel-b-90us',
    paint: (p, g) => { drawContour(contourB1X, contourB1Y, 0.243, 0.22, p, g); drawEllipses(fieldB1, p, g); } },
  { id: 'b2', left: 969, top: 945, u: uB2, v: vB2, name: 'panel-b-120us',
    paint: (p, g) => { drawEllipses(fieldB2Under, p, g); drawContour(contourB2FanX, contourB2FanY, 0.236, 0.22, p, g); drawContour(contourB2X, contourB2Y, 0.24, 0.22, p, g); drawEllipses(fieldB2Over, p, g); } },
  { id: 'b3', left: 1653, top: 945, u: uB3, v: vB3, name: 'panel-b-180us',
    paint: (p, g) => { drawEllipses(fieldB3Halo, p, g); drawContour(contourB3X, contourB3Y, 0.004, 0.25, p, g); drawEllipses(fieldB3Spots, p, g); } }
];

panelDefs.forEach(p => {
  const wrap = node('g', {}, panelsRoot);
  
  

  colormapFilter(p.id + '-jet', p.left, p.top);
  const field = node('g', { filter: 'url(#' + p.id + '-jet)' }, wrap);
  
  
  const base = node('rect', { x: p.left - 10, y: p.top - 10, width: PANEL + 20, height: PANEL + 20, fill: gray(ambientY) }, field);
  
  
  p.paint(p, field);

  const vectors = node('g', {}, wrap);
  
  
  p.u.forEach((row, j) => {
    row.forEach((u, i) => {
      if (u === null) return;
      drawArrow(xAxis(p.left, gridX[i]), yAxis(p.top, gridY[j]), u, p.v[j][i], vectors);
    });
  });
});
</script>
</body>
</html>
